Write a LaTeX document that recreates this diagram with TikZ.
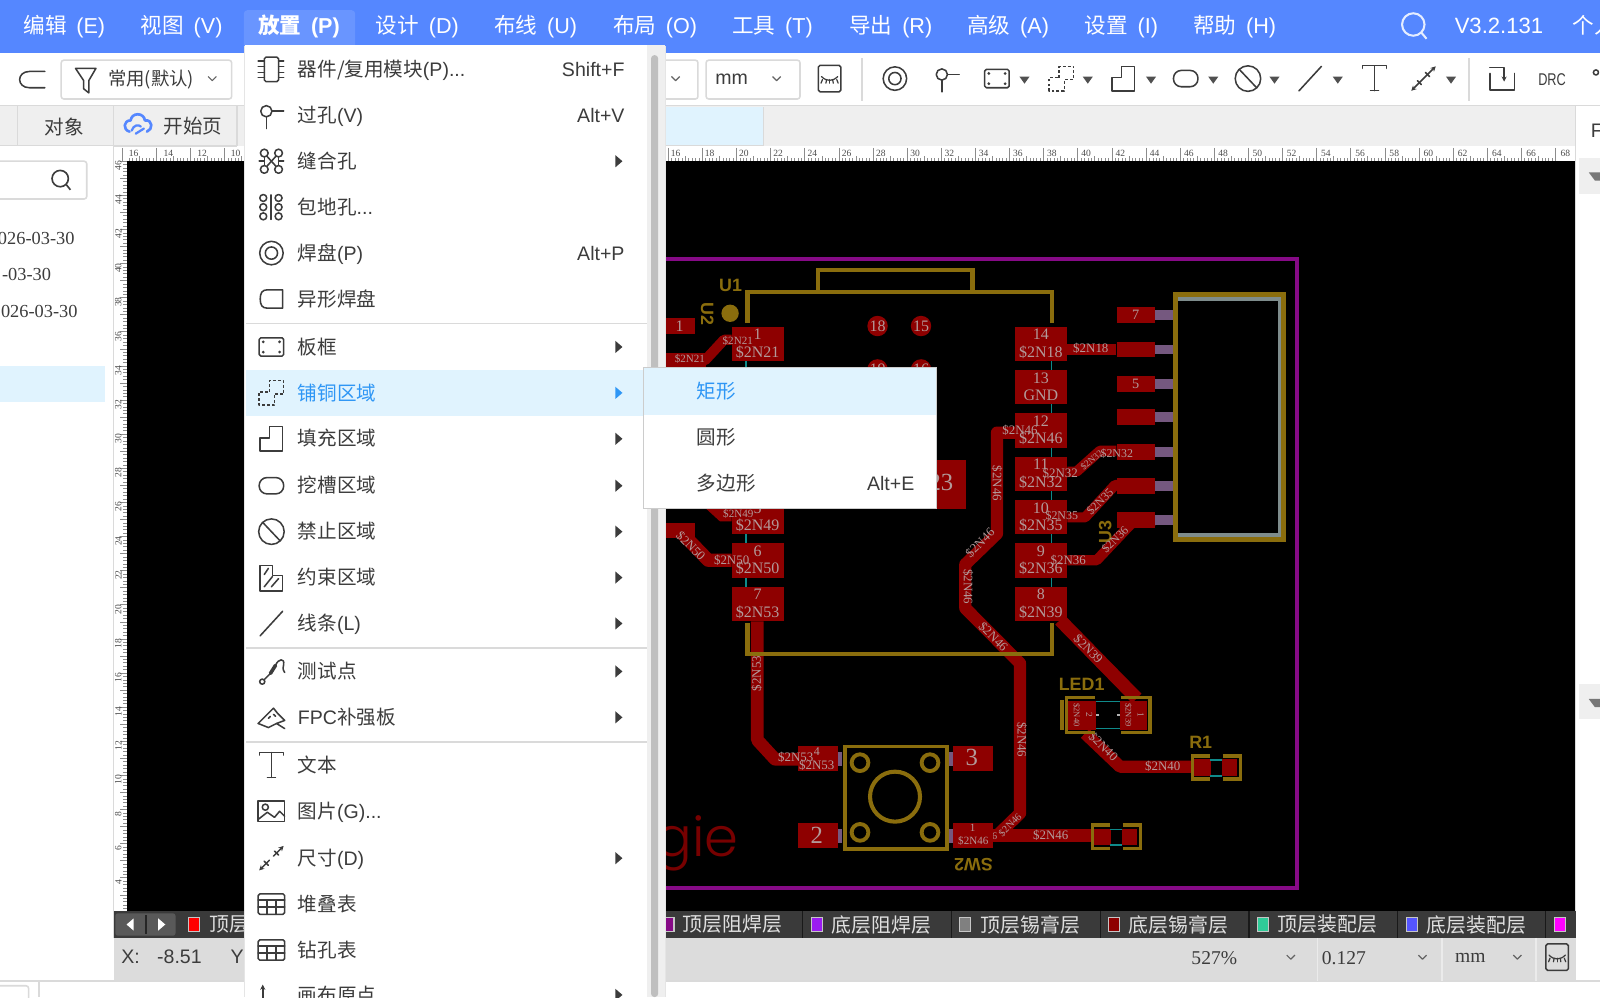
\documentclass[tikz,border=0pt]{standalone}
\usepackage{fontspec}
\usetikzlibrary{arrows.meta}
\setmainfont{Liberation Sans}
\newfontfamily\cjk{Noto Sans CJK SC}
\newfontfamily\srf{Liberation Serif}
\newfontfamily\gief[UprightFont=* Light]{Poppins}
\newcommand\fs[1]{\fontsize{#1}{#1}\selectfont}
\newcommand\Z[1]{{\cjk #1}}
\definecolor{barblue}{HTML}{5587FF}
\definecolor{hiblue}{HTML}{E0F3FE}
\definecolor{txtblue}{HTML}{2E96F5}
\definecolor{ink}{HTML}{3C3C3C}
\definecolor{tabgrey}{HTML}{EFEFEF}
\definecolor{lineg}{HTML}{DADADA}
\definecolor{board}{HTML}{860A86}
\definecolor{silk}{HTML}{8A6D0D}
\definecolor{copper}{HTML}{8E0000}
\definecolor{padtxt}{HTML}{B39A9A}
\definecolor{stub}{HTML}{75587F}
\definecolor{teal1}{HTML}{0F8A8A}
\definecolor{status}{HTML}{DCDCDC}
\definecolor{layerbar}{HTML}{3A3A3A}
\definecolor{lpurple}{HTML}{9B1CF0}
\definecolor{lgreen}{HTML}{2FCB98}
\definecolor{lblue}{HTML}{5555FF}
\definecolor{lmag}{HTML}{FF00FF}
\definecolor{lred}{HTML}{FF0000}
\definecolor{innerg}{HTML}{7E8C8C}
\tikzset{
  px/.style={line width=#1*0.6pt},
  ic/.style={draw=ink,px=1.5,line join=round,line cap=round},
  txt/.style={inner sep=0pt,outer sep=0pt},
  mtxt/.style={txt,anchor=base west,yshift=-4.2pt,text=ink,font=\fs{11.5}},
  msc/.style={txt,anchor=base east,yshift=-4.2pt,text=ink,font=\fs{11.5}},
  barl/.style={txt,anchor=base,yshift=-4.6pt,text=white,font=\fs{12.7}},
  pcbl/.style={txt,text=padtxt,font=\srf\fs{#1}},
  silkl/.style={txt,text=silk,font=\bfseries\fs{#1}},
  trace/.style={draw=copper,px=#1,line join=round},
  silkp/.style={draw=silk,px=#1,line join=miter},
  tl/.style={txt,text=black!70,font=\srf\fs{5.6}},
  lay/.style={txt,text=white!88!black,font=\cjk\fs{11.7}},
  chev/.style={draw=ink!80,px=1.2,line join=round},
  smalltip/.style={>={Stealth[length=3pt,width=3pt]}}
}
\newcommand\icChip{\draw[ic,rounded corners=1pt](-7,-12) rectangle (7,12);
  \foreach \q in {-8,-3,3,8}{\draw[ic](-13,\q)--(-7,\q);\draw[ic](7,\q)--(12,\q);}}
\newcommand\icVia{\draw[ic](-5,-4) circle[radius=5.5];\draw[ic](0.5,-4)--(12,-4);\draw[ic](-5,1.5)--(-5,13);}
\newcommand\icStitch{\foreach \a/\b in {-7/-8,7/-8,-7/8,7/8}{\draw[ic](\a,\b) circle[radius=3.8];}
  \draw[ic](-4.5,-5)--(4.5,5);\draw[ic](4.5,-5)--(-4.5,5);
  \draw[ic](-7,-4)--(-7,4);\draw[ic](7,-4)--(7,4);\draw[ic](-12,0)--(-7,0);\draw[ic](7,0)--(12,0);}
\newcommand\icGuard{\foreach \a in {-8,7}\foreach \b in {-9,0,9}{\draw[ic](\a,\b) circle[radius=3.4];}
  \draw[ic](-0.5,-12)--(-0.5,12);}
\newcommand\icPad{\draw[ic](0,0) circle[radius=11.5];\draw[ic](0,0) circle[radius=6];}
\newcommand\icPoly{\draw[ic](11,-9)--(11,9)--(-4,9).. controls (-9,9) and (-11,6) .. (-11,0) .. controls (-11,-6) and (-9,-9) .. (-4,-9)--cycle;}
\newcommand\icFrame{\draw[ic,rounded corners=1pt](-12,-9) rectangle (12,9);
  \foreach \a/\b in {-8/-5,8/-5,-8/5,8/5}{\fill[ink](\a,\b) circle[radius=1.5];}}
\newcommand\icCopper{\draw[ic,line cap=butt,dash pattern=on 1.7pt off 1.2pt](-2,-1)--(-2,-12)--(12,-12)--(12,1)--(3,1)--(3,12)--(-12,12)--(-12,-1)--cycle;}
\newcommand\icFill{\draw[ic](-11,-1)--(-2,-1)--(-2,-12)--(11,-12)--(11,12)--(-11,12)--cycle;}
\newcommand\icSlot{\draw[ic,rounded corners=4.6pt](-12,-8) rectangle (12,8);}
\newcommand\icForbid{\draw[ic](0,0) circle[radius=12.5];\draw[ic](-8.5,-9)--(8.5,9);}
\newcommand\icKeep{\draw[ic](-11,-12)--(1,-12)--(1,-2)--(11,-2)--(11,13)--(-11,13)--cycle;
  \draw[ic](-7,-3)--(-3,-9);\draw[ic](-7,9)--(1,-1);\draw[ic](0,9)--(7,1);}
\newcommand\icLine{\draw[ic](-11,12)--(11,-12);}
\newcommand\icProbe{\draw[ic](-9,10) circle[radius=2.5];\draw[ic](-7,8)--(-1,2);
  \draw[ic,px=3.5](-1,2)--(4,-6);\draw[ic](4,-6).. controls (7,-13) and (13,-13) .. (12,-7) .. controls (11,-4) and (11,-2) .. (13,1);}
\newcommand\icFPC{\draw[ic](-13,6)--(2,-9)--(6,-4)--(13,3)--(5,6)--(13,11);\draw[ic](-13,6)--(-3,10)--(5,6);
  \draw[ic](-3,1)--(-1,-1);\draw[ic](2,-3)--(4,-1);}
\newcommand\icT{\draw[ic,px=1.3](-12,-10)--(-12,-12.5)--(12,-12.5)--(12,-10);\draw[ic,px=1.3](0,-12.5)--(0,12);\draw[ic,px=1.3](-4,12)--(4,12);}
\newcommand\icPic{\draw[ic](-13,-10) rectangle (13,10);\draw[ic](-6,-4) circle[radius=3];\draw[ic](-13,8)--(-4,1)--(3,6)--(8,0)--(13,5);}
\newcommand\icDim{\draw[ic,smalltip,<-](-12,12)--(-2,2);\draw[ic,smalltip,->](2,-2)--(12,-12);\draw[ic](-7,3)--(-3,7);\draw[ic](3,-7)--(7,-3);}
\newcommand\icTable{\draw[ic,rounded corners=1pt](-13,-10) rectangle (13,10);\draw[ic](-13,-4)--(13,-4);\draw[ic](-13,3)--(13,3);\draw[ic](-4.5,-4)--(-4.5,10);\draw[ic](4.5,-4)--(4.5,10);}
\newcommand\icEye{\draw[ic,rounded corners=1pt](-11,-13) rectangle (11,13);
  \draw[ic,px=1.2](-8,-2).. controls (-3,3) and (3,3) .. (8,-2);\foreach \a in {-7,-3,0,3,7}{\draw[ic,px=1.2](\a,1)--(\a*1.2,4.5);}}
\newcommand\at[3]{\begin{scope}[shift={(#1,#2)}]#3\end{scope}}
\newcommand\tri[2]{\fill[ink!90](#1-5,#2-3)--(#1+5,#2-3)--(#1,#2+4)--cycle;}
\newcommand\marr[1]{\fill[ink](603,#1-6)--(610,#1)--(603,#1+6)--cycle;}
\newcommand\chevr[2]{\draw[chev](#1-4,#2-2)--(#1,#2+2)--(#1+4,#2-2);}
\begin{document}
\begin{tikzpicture}[x=0.6pt,y=-0.6pt]
\useasboundingbox (0,0) rectangle (1568,977.1);
\clip (0,0) rectangle (1568,977.1);
\fill[white](0,0) rectangle (1568,977.1);
% canvas
\fill[black](124,158) rectangle (1544,893);
% --- PCB ---
\draw[draw=board,px=4](560,254) rectangle (1270.7,870.6);
% traces
\draw[trace=10](717,333)--(709.5,333)--(691,353)--(652,353);
\fill[copper](652,345.6) rectangle (692,360.3);
\fill[copper](652,312) rectangle (681,327);
\draw[trace=13](652,520)--(666,520)--(694,549)--(717,549);
\fill[copper](640,513) rectangle (681,527.5);
\fill[copper](692.5,499)--(717,499)--(717,511)--(705.6,511)--cycle;
\draw[trace=10](1046,342.5)--(1094,342.5);
\draw[trace=12](995,424)--(977,424)--(977,523)--(946,553)--(946,596)--(999.6,650)--(999.6,797)--(978,818);
\draw[trace=13](973.4,819)--(1071,819);
\draw[trace=10](1046,462.2)--(1055,462.2)--(1078,441.7)--(1094,441.7);
\draw[trace=10](1046,507)--(1063.4,507)--(1092.7,475.3)--(1100,475.3);
\draw[trace=10](1046,549)--(1074.8,549)--(1109,512.8)--(1132,510);
\draw[trace=13](1038.8,607.6)--(1114,684.4);
\draw[trace=12](1063.3,718.7)--(1097.6,751.3)--(1169.5,751.3);
\draw[trace=12.5](742.2,609)--(742.2,725.2)--(759.5,744)--(782,744);
% teal ratline links
\foreach \i in {0,...,5}{\draw[teal1,px=1.5](1030.5,320+\i*42.46+33)--(1030.5,320+\i*42.46+43);}
\draw[teal1,px=1.5](731,353)--(731,362);\draw[teal1,px=1.5](731,523)--(731,533);\draw[teal1,px=1.5](731,565)--(731,575);
% U2 pads
\foreach \i/\n/\m in {0/14/\$2N18,1/13/GND,2/12/\$2N46,3/11/\$2N32,4/10/\$2N35,5/9/\$2N36,6/8/\$2N39}{
  \fill[copper](994.7,320+\i*42.46) rectangle (1046,353.7+\i*42.46);
  \node[pcbl=9.4] at (1020,328+\i*42.46) {\n};
  \node[pcbl=9.4] at (1020,345+\i*42.46) {\m};}
\foreach \i/\n/\m in {0/1/\$2N21,4/5/\$2N49,5/6/\$2N50,6/7/\$2N53}{
  \fill[copper](717,320+\i*42.46) rectangle (768,353.7+\i*42.46);
  \node[pcbl=9.4] at (742.5,328+\i*42.46) {\n};
  \node[pcbl=9.4] at (742.5,345+\i*42.46) {\m};}
% silk U2
\draw[silkp=4](732.5,316.7)--(732.5,285.8)--(1030.6,285.8)--(1030.6,316.7);
\draw[silkp=4](802,285.8)--(802,264.6)--(953,264.6)--(953,285.8);
\draw[silkp=4](732.5,611)--(732.5,641)--(1030.6,641)--(1030.6,611);
\fill[silk](715.5,307) circle[radius=8.5];
\node[silkl=10.5] at (716,280) {U1};
\node[silkl=10.5,rotate=-90] at (693,308) {U2};
\node[pcbl=9.4] at (666,319.5) {1};
% centre pads
\foreach \a/\n in {860/18,902.6/15}{\fill[copper](\a,319.5) circle[radius=10];\node[pcbl=9.4] at (\a,319.5) {\n};}
\foreach \a/\n in {860/19,902.6/16}{\fill[copper](\a,362) circle[radius=10];\node[pcbl=9.4] at (\a,362) {\n};}
\fill[copper](887,451) rectangle (947,499);
\node[pcbl=14.5] at (922,473) {23};
% connector
\foreach \a/\b/\n in {300.5/316.2/7,334.9/350.2/,368.2/383.9/5,401.1/416.8/,435.1/450.8/,468.4/484.1/,502/517.7/}{
  \fill[copper](1094.4,\a) rectangle (1132,\b);
  \fill[stub](1132,\a+3) rectangle (1150,\b-3);
  \node[pcbl=8.4] at (1113,{(\a+\b)/2}) {\n};}
\draw[draw=innerg,px=3.2](1153,293)--(1254.4,293)--(1254.4,524.3)--(1153,524.3);
\draw[silkp=4.5](1152,288.5) rectangle (1257.6,528.8);
\node[silkl=10.5,rotate=90] at (1083,521) {U3};
% trace labels
\node[pcbl=6.5] at (723,334) {\$2N21};
\node[pcbl=6.5] at (676,352) {\$2N21};
\node[pcbl=6.5] at (723.5,504) {\$2N49};
\node[pcbl=7.6,rotate=-45] at (677,535) {\$2N50};
\node[pcbl=7.6] at (717,549) {\$2N50};
\node[pcbl=7.6] at (1069,341.3) {\$2N18};
\node[pcbl=7.6] at (999.6,422) {\$2N46};
\node[pcbl=7.6,rotate=-90] at (977,473.7) {\$2N46};
\node[pcbl=7.6,rotate=45] at (960.4,532) {\$2N46};
\node[pcbl=7.6,rotate=-90] at (948.7,575) {\$2N46};
\node[pcbl=7.6,rotate=-45] at (973.4,624) {\$2N46};
\node[pcbl=7.6,rotate=-90] at (1001.3,725) {\$2N46};
\node[pcbl=6,rotate=45] at (989.8,808.5) {\$2N46};
\node[pcbl=7.6] at (1029.7,818.3) {\$2N46};
\node[pcbl=6] at (963.7,819) {\$2N46};
\node[pcbl=7.6] at (1039,463.8) {\$2N32};
\node[pcbl=5.5,rotate=40] at (1069.8,450.8) {\$2N32};
\node[pcbl=7] at (1094.4,445) {\$2N32};
\node[pcbl=7] at (1040.5,505.7) {\$2N35};
\node[pcbl=7,rotate=45] at (1078,491.6) {\$2N35};
\node[pcbl=7.6] at (1046.8,548.8) {\$2N36};
\node[pcbl=7,rotate=45] at (1092.7,529) {\$2N36};
\node[pcbl=7.6,rotate=-45] at (1066.5,636) {\$2N39};
\node[pcbl=7.6,rotate=-45] at (1081.3,731.7) {\$2N40};
\node[pcbl=7.6] at (1139.4,751.3) {\$2N40};
\node[pcbl=7.6,rotate=90] at (741.5,660) {\$2N53};
% LED1
\fill[copper](1047,686.7) rectangle (1074,715.4);
\fill[copper](1097.6,686.7) rectangle (1123.8,715.4);
\draw[teal1,px=1.5](1074,687.6)--(1097.6,687.6);\draw[teal1,px=1.5](1074,713.8)--(1097.6,713.8);
\fill[gray!60](1074.2,699.4) rectangle (1076.7,702);\fill[gray!60](1094.8,699.4) rectangle (1097.3,702);
\draw[silkp=3.5](1073,683.4)--(1045.3,683.4)--(1045.3,718)--(1073,718);
\draw[silkp=3.5](1098.6,683.4)--(1127,683.4)--(1127,718)--(1098.6,718);
\draw[silkp=4](1040.8,686)--(1040.8,715.4);
\node[silkl=10.5] at (1060,670.3) {LED1};
\node[pcbl=5,rotate=-90] at (1055,700.7) {\$2N40};
\node[pcbl=5.5,rotate=-90] at (1067.5,700.7) {2};
\node[pcbl=5,rotate=-90] at (1105.8,700.7) {\$2N39};
\node[pcbl=5.5,rotate=-90] at (1117.9,700.7) {1};
% R1 and its twin
\foreach \dx/\dy in {0/0,-98/67.9}{
\begin{scope}[shift={(\dx,\dy)}]
\fill[copper](1170.4,744.1) rectangle (1186.4,760.5);
\fill[copper](1197.2,744.1) rectangle (1212.6,760.5);
\draw[teal1,px=1.5](1186,744.8)--(1197.2,744.8);\draw[teal1,px=1.5](1186,760.2)--(1197.2,760.2);
\draw[silkp=3.5](1185.8,740.6)--(1168.8,740.6)--(1168.8,763.4)--(1185.8,763.4);
\draw[silkp=3.5](1198.2,740.6)--(1215.8,740.6)--(1215.8,763.4)--(1198.2,763.4);
\end{scope}}
\node[silkl=10.5] at (1176.7,727.5) {R1};
% SW2
\fill[copper](781.7,731) rectangle (821,756);
\fill[copper](781.7,806.9) rectangle (821,831.4);
\fill[copper](933.6,731) rectangle (973.4,756);
\fill[copper](933.6,806.9) rectangle (973.4,831.4);
\foreach \a/\c in {736.6/750.7,812.8/825.8}{\fill[stub](821.6,\a) rectangle (825,\c);\fill[stub](929.3,\a) rectangle (933.6,\c);}
\draw[silkp=3.5](828,731.5) rectangle (928,832);
\draw[silk,px=4](877.1,780.7) circle[radius=24.5];
\foreach \a/\b in {842.8/747.4,911.4/747.4,842.8/815.7,911.4/815.7}{\draw[silk,px=3.8](\a,\b) circle[radius=8.2];}
\node[silkl=10.5,rotate=180] at (954,847) {SW2};
\node[pcbl=7] at (800.4,736.6) {4};
\node[pcbl=7.6] at (800.4,749.7) {\$2N53};
\node[pcbl=7.6] at (779.8,742.2) {\$2N53};
\node[pcbl=14.5] at (952.3,742) {3};
\node[pcbl=14.5] at (800.4,818.3) {2};
\node[pcbl=6.5] at (953.2,811.6) {1};
\node[pcbl=6.5] at (953.8,824) {\$2N46};
\node[txt,anchor=base east,text=copper!120!red,font=\gief\fs{32}] at (724,839.6) {gie};
% --- rulers ---
\fill[white](112,143) rectangle (1544,158);
\fill[white](112,158) rectangle (124,893);
\foreach \i in {2,...,420}{\draw[black!45,px=0.7](119.9+\i*3.344,155)--(119.9+\i*3.344,158);}
\foreach \i in {1,...,84}{\draw[black!45,px=0.7](119.9+\i*16.72,153)--(119.9+\i*16.72,158);}
\foreach \i in {0,...,42}{\draw[black!45,px=0.7](119.9+\i*33.44,145)--(119.9+\i*33.44,158);}
\foreach \i in {0,...,220}{\draw[black!45,px=0.7](121,158+\i*3.344)--(124,158+\i*3.344);}
\foreach \i in {0,...,44}{\draw[black!45,px=0.7](118,158+\i*16.72)--(124,158+\i*16.72);}
\foreach \v/\x in {16/131,14/165,12/198,10/231}{\node[tl] at (\x,150) {\v};}
\foreach \v in {16,18,...,68}{\node[tl] at ({662+(\v-16)*16.77},150) {\v};}
\foreach \v in {4,6,...,46}{\node[tl,rotate=90] at (116,{162.4+(46-\v)*16.72}) {\v};}
% --- top bar ---
\fill[barblue](0,0) rectangle (1568,51.5);
\fill[barblue!88!white,rounded corners=2pt](239,10) rectangle (348,53);
\fill[barblue!88!white](239,40) rectangle (348,51.5);
\foreach \x/\a/\b in {63/编辑/(E),178/视图/(V),409/设计/(D),525/布线/(U),642/布局/(O),757/工具/(T),873/导出/(R),988/高级/(A),1099/设置/(I),1210/帮助/(H)}{
  \node[barl] at (\x,25) {\Z{\a}\hspace{0.45em}\b};}
\node[barl,font=\bfseries\fs{12.7}] at (293,25) {{\cjk\bfseries 放置}\hspace{0.45em}(P)};
\draw[white!85!barblue,px=2](1385,24) circle[radius=11];\draw[white!85!barblue,px=2](1393,32)--(1398,38);
\node[barl,font=\fs{13}] at (1469,25) {V3.2.131};
\node[barl,anchor=base west] at (1541,25) {\Z{个人}};
% --- toolbar ---
\fill[white](0,51.5) rectangle (1568,104);
\draw[ink,px=1.5,line cap=round](44,70)--(29,70).. controls (16,70) and (16,86) .. (29,86)--(44,86);
\draw[lineg,px=1.5,rounded corners=1.5pt](60,59) rectangle (227,97);
\draw[ic](74,67)--(94,67)--(87,79)--(87,91)--(82,87)--(82,79)--cycle;
\node[txt,text=ink,font=\cjk\fs{10.8}] at (148,78) {常用(默认)};
\chevr{208}{77}
\draw[lineg,px=1.5,rounded corners=1.5pt](640,59) rectangle (684,97);
\chevr{662}{77}
\draw[lineg,px=1.5,rounded corners=1.5pt](692,59) rectangle (784,97);
\node[txt,anchor=west,text=ink,font=\fs{11.5}] at (701,78) {mm};
\chevr{761}{77}
\at{813}{77}{\icEye}
\draw[lineg,px=2](845,57)--(845,99);
\at{877}{77}{\icPad}
\at{928}{77}{\icVia}
\at{977}{77}{\icFrame}\tri{1004}{78}
\at{1040}{77}{\icCopper}\tri{1066}{78}
\at{1101}{77}{\icFill}\tri{1128}{78}
\at{1162}{77}{\icSlot}\tri{1189}{78}
\at{1223}{77}{\icForbid}\tri{1249}{78}
\at{1284}{77}{\icLine}\tri{1311}{78}
\at{1347}{77}{\icT}
\at{1395}{77}{\draw[ic,smalltip,<->](-12,12)--(12,-12);\draw[ic](-6,2)--(-2,6);\draw[ic](2,-6)--(6,-2);}\tri{1422}{78}
\draw[lineg,px=2](1440,57)--(1440,99);
\draw[ic](1460,72)--(1460,88)--(1484,88)--(1484,72);\draw[ic,smalltip,->](1460,66)--(1474,66)--(1474,80);
\node[txt,text=ink,font=\fs{10},xscale=0.75] at (1521,78) {DRC};
\draw[ic](1564,71) circle[radius=2.5];
% --- tabs ---
\fill[tabgrey](0,104) rectangle (1544,143);
\draw[lineg,px=1.5](0,103.5)--(1568,103.5);
\draw[lineg,px=1.5](0,143)--(232,143);
\fill[hiblue](652,105) rectangle (748,143);
\draw[lineg,px=1](748,105)--(748,143);\draw[lineg,px=1](652,143)--(748,143);
\draw[lineg,px=1.5](17,104)--(17,143);\draw[lineg,px=1.5](111,104)--(111,143);\draw[lineg,px=1.5](232,104)--(232,143);
\node[txt,text=ink,font=\cjk\fs{11.5}] at (63,124) {对象};
\node[txt,text=ink,font=\cjk\fs{11.5}] at (189,124) {开始页};
\draw[barblue,px=2.6,line join=round,line cap=round](127,129).. controls (120,127) and (121,118) .. (128,118) .. controls (129,110) and (141,110) .. (142,118) .. controls (150,117) and (150,127) .. (144,129);
\draw[barblue,px=2.2,line cap=round](129,128).. controls (131,122) and (136,122) .. (138,124);\draw[barblue,px=2.2,line cap=round](133,131)--(141,126);
% --- left panel ---
\fill[white](0,143) rectangle (111,977.1);
\draw[lineg,px=1.5](111,143)--(111,919);
\draw[lineg,px=1.5,rounded corners=1.5pt](-5,158) rectangle (85,195);
\draw[ink,px=1.6](59,175) circle[radius=8];\draw[ink,px=1.6](65,181)--(69,186);
\node[txt,anchor=east,text=ink,font=\srf\fs{10.8}] at (73,234) {026-03-30};
\node[txt,anchor=east,text=ink,font=\srf\fs{10.8}] at (50,269) {-03-30};
\node[txt,anchor=east,text=ink,font=\srf\fs{10.8}] at (76,305) {026-03-30};
\fill[hiblue](0,359) rectangle (103,394);
% --- right panel ---
\fill[white](1544,104) rectangle (1568,977.1);
\draw[lineg,px=1](1544,104)--(1544,961);
\node[txt,anchor=west,text=ink,font=\fs{11.5}] at (1559,128) {F};
\fill[tabgrey](1547,155) rectangle (1568,190);
\fill[tabgrey](1547,670) rectangle (1568,705);
\fill[ink!70](1557,169)--(1568,169)--(1568,177)--(1563,177)--cycle;
\fill[ink!70](1557,685)--(1568,685)--(1568,693)--(1563,693)--cycle;
% --- bottom bars ---
\fill[layerbar](112,893) rectangle (1544,919);
\fill[status](112,919) rectangle (1544,961);
\draw[lineg,px=1.5](0,961.5)--(1568,961.5);
\draw[lineg,px=1.5,rounded corners=1.5pt](-5,966) rectangle (28,985);
\draw[lineg,px=1.5](38,962)--(38,977.1);
\fill[black!65,rounded corners=1.5pt](113,895) rectangle (172,917);
\draw[black!85,px=1.5](143,897)--(143,915);
\fill[white](131,900)--(131,912)--(124,906)--cycle;
\fill[white](155,900)--(155,912)--(162,906)--cycle;
\foreach \s/\c in {190/lred,655/board,801/lpurple,946/gray,1092/copper,1238/lgreen,1384/lblue,1529/lmag}{
  \fill[\c,draw=white!55!gray,px=1](\s-5.5,899.5) rectangle (\s+5.5,912.5);}
\node[lay,anchor=west] at (205,906) {顶层阻焊层};
\node[lay] at (718,906) {顶层阻焊层};
\node[lay] at (864,906) {底层阻焊层};
\node[lay] at (1010,906) {顶层锡膏层};
\node[lay] at (1155,906) {底层锡膏层};
\node[lay] at (1301,906) {顶层装配层};
\node[lay] at (1447,906) {底层装配层};
\foreach \x in {786,932,1078,1224,1370,1515}{\draw[black!90,px=1](\x,893)--(\x,919);}
\node[txt,anchor=west,text=ink,font=\fs{11.5}] at (119,938) {X:};
\node[txt,anchor=west,text=ink,font=\fs{11.5}] at (154,938) {-8.51};
\node[txt,anchor=west,text=ink,font=\fs{11.5}] at (226,938) {Y};
\node[txt,text=ink,font=\srf\fs{11.5}] at (1190,939) {527\%};\chevr{1265}{938}
\node[txt,text=ink,font=\srf\fs{11.5}] at (1317,939) {0.127};\chevr{1394}{938}
\node[txt,text=ink,font=\srf\fs{11.5}] at (1441,939) {mm};\chevr{1487}{938}
\draw[white!92!black,px=1.5](1291,919)--(1291,961);\draw[white!92!black,px=1.5](1413,919)--(1413,961);\draw[white!92!black,px=1.5](1505,919)--(1505,961);
\at{1526}{938}{\icEye}
% --- main menu ---
\fill[black!10](239,45) rectangle (653,977.1);
\fill[white](240,44) rectangle (652,977.1);
\fill[tabgrey](634,44) rectangle (652,977.1);
\fill[black!25,rounded corners=2pt](638,54) rectangle (645,977.1);
\fill[hiblue](241,363) rectangle (634,408);
\foreach \y in {317,635,727}{\draw[lineg,px=1.5](241,\y)--(634,\y);}
\newcommand\mi[3]{\node[mtxt] at (292,#1) {#2};\at{266}{#1}{#3}}
\mi{68}{\Z{器件/复用模块}(P)...}{\icChip}
\mi{113}{\Z{过孔}(V)}{\icVia}
\mi{158}{\Z{缝合孔}}{\icStitch}
\mi{203}{\Z{包地孔}...}{\icGuard}
\mi{248}{\Z{焊盘}(P)}{\icPad}
\mi{293}{\Z{异形焊盘}}{\icPoly}
\mi{340}{\Z{板框}}{\icFrame}
\node[mtxt,text=txtblue] at (292,385) {\Z{铺铜区域}};\at{266}{385}{\icCopper}
\mi{430}{\Z{填充区域}}{\icFill}
\mi{476}{\Z{挖槽区域}}{\icSlot}
\mi{521}{\Z{禁止区域}}{\icForbid}
\mi{566}{\Z{约束区域}}{\icKeep}
\mi{611}{\Z{线条}(L)}{\icLine}
\mi{658}{\Z{测试点}}{\icProbe}
\mi{703}{FPC\Z{补强板}}{\icFPC}
\mi{750}{\Z{文本}}{\icT}
\mi{795}{\Z{图片}(G)...}{\icPic}
\mi{841}{\Z{尺寸}(D)}{\icDim}
\mi{886}{\Z{堆叠表}}{\icTable}
\mi{931}{\Z{钻孔表}}{\icTable}
\mi{975}{\Z{画布原点}}{\draw[ic,smalltip,->](-8.5,3)--(-8.5,-10);}
\node[msc] at (612,68) {Shift+F};
\node[msc] at (612,113) {Alt+V};
\node[msc] at (612,248) {Alt+P};
\foreach \y in {158,340,430,476,521,566,611,658,703,841,975}{\marr{\y}}
\fill[txtblue](603,379)--(610,385)--(603,391)--cycle;
% --- submenu ---
\fill[black!20](630,360) rectangle (918,499);
\fill[white](631,361) rectangle (917,498);
\fill[hiblue](631,361) rectangle (917,407);
\node[mtxt,text=txtblue] at (683,384) {\Z{矩形}};
\node[mtxt] at (683,429) {\Z{圆形}};
\node[mtxt] at (683,474) {\Z{多边形}};
\node[msc] at (896,474) {Alt+E};
\end{tikzpicture}
\end{document}
